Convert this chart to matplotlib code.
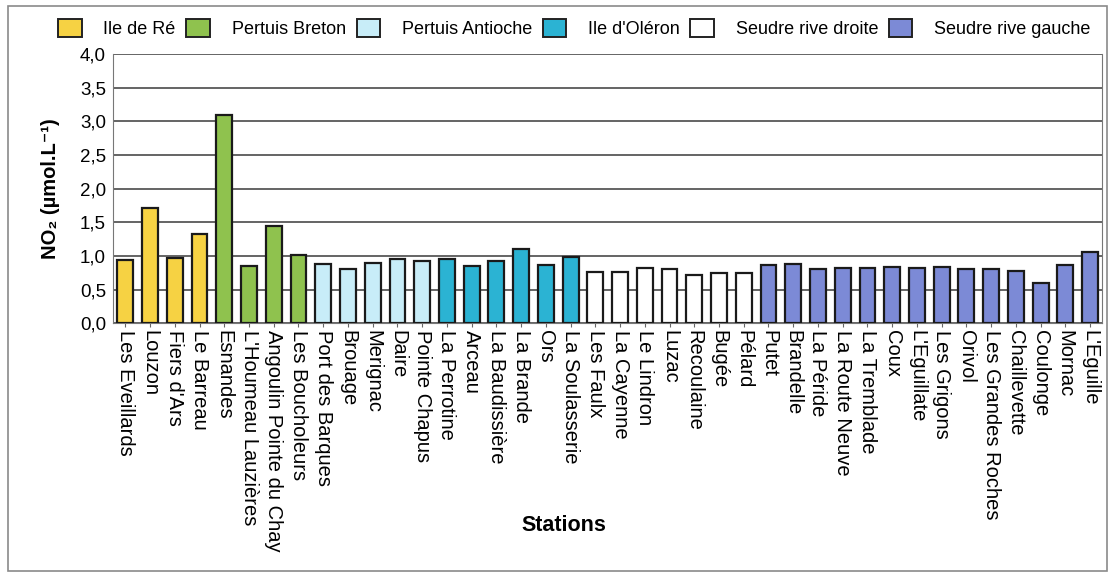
import matplotlib.pyplot as plt
from matplotlib.patches import Patch, Rectangle

plt.rcParams['font.family'] = ['Liberation Sans', 'DejaVu Sans']

# stations grouped by sector, in plotting order
ile_de_re = ["Les Eveillards", "Louzon", "Fiers d'Ars", "Le Barreau"]
pertuis_breton = ["Esnandes", "L'Houmeau Lauzières", "Angoulin Pointe du Chay", "Les Boucholeurs"]
pertuis_antioche = ["Port des Barques", "Brouage", "Merignac", "Daire", "Pointe Chapus"]
ile_oleron = ["La Perrotine", "Arceau", "La Baudissière", "La Brande", "Ors", "La Soulasserie"]
seudre_droite = ["Les Faulx", "La Cayenne", "Le Lindron", "Luzac", "Recoulaine", "Bugée", "Pélard"]
seudre_gauche = ["Putet", "Brandelle", "La Péride", "La Route Neuve", "La Tremblade", "Coux",
                 "L'Eguillate", "Les Grigons", "Orivol", "Les Grandes Roches", "Chaillevette",
                 "Coulonge", "Mornac", "L'Eguille"]

# NO2 (umol/L)
no2_re = [0.94, 1.71, 0.97, 1.32]
no2_breton = [3.09, 0.85, 1.45, 1.02]
no2_antioche = [0.88, 0.80, 0.90, 0.96, 0.93]
no2_oleron = [0.96, 0.85, 0.93, 1.11, 0.86, 0.99]
no2_droite = [0.76, 0.76, 0.82, 0.80, 0.71, 0.75, 0.74]
no2_gauche = [0.87, 0.88, 0.80, 0.82, 0.82, 0.83, 0.82, 0.83, 0.80, 0.81, 0.77, 0.59, 0.86, 1.06]

groups = [
    ("Ile de Ré", ile_de_re, no2_re, "#F6D243"),
    ("Pertuis Breton", pertuis_breton, no2_breton, "#8FC24E"),
    ("Pertuis Antioche", pertuis_antioche, no2_antioche, "#C8EDF8"),
    ("Ile d'Oléron", ile_oleron, no2_oleron, "#2BB3D3"),
    ("Seudre rive droite", seudre_droite, no2_droite, "#FFFFFF"),
    ("Seudre rive gauche", seudre_gauche, no2_gauche, "#7C8AD6"),
]

fig = plt.figure(figsize=(11.13, 5.77), dpi=100)
ax = fig.add_axes([0.1015, 0.44, 0.889, 0.466])

names = []
pos = 0
handles = []
for label, st, vals, col in groups:
    xs = list(range(pos, pos + len(st)))
    ax.bar(xs, vals, width=0.64, color=col, edgecolor="#1a1a1a", linewidth=1.6, zorder=3)
    names += st
    pos += len(st)
    handles.append(Patch(facecolor=col, edgecolor="#222222", linewidth=1.4, label=label))

ax.set_xlim(-0.5, len(names) - 0.5)
ax.set_ylim(0, 4.0)
ax.set_yticks([0, 0.5, 1.0, 1.5, 2.0, 2.5, 3.0, 3.5, 4.0])
ax.set_yticklabels(["0,0", "0,5", "1,0", "1,5", "2,0", "2,5", "3,0", "3,5", "4,0"], fontsize=13.5)
ax.set_xticks(range(len(names)))
ax.set_xticklabels(names, rotation=-90, fontsize=14.5, va="top", ha="center")
ax.tick_params(axis="x", length=3, pad=2, color="#666666")
ax.tick_params(axis="y", length=0, pad=5)
ax.grid(axis="y", color="#3a3a3a", linewidth=1.1, zorder=0)

ax.spines["top"].set_visible(False)
for s in ["left", "right", "bottom"]:
    ax.spines[s].set_color("#777777")
    ax.spines[s].set_linewidth(0.8)

ax.set_ylabel("NO₂ (µmol.L⁻¹)", fontsize=14.5, fontweight="bold", labelpad=14)
fig.text(0.507, 0.09, "Stations", fontsize=15.5, fontweight="bold", ha="center", va="center")

fig.legend(handles=handles, loc="center", bbox_to_anchor=(0.516, 0.95), ncol=6, frameon=False,
           fontsize=13, handlelength=1.3, handleheight=1.1, handletextpad=1.2,
           columnspacing=0.6, borderaxespad=0)

# outer frame around the figure
fig.patches.append(Rectangle((0.007, 0.01), 0.988, 0.98, transform=fig.transFigure,
                             fill=False, edgecolor="#8a8a8a", linewidth=1.2))

fig.savefig("out.png", dpi=100)
